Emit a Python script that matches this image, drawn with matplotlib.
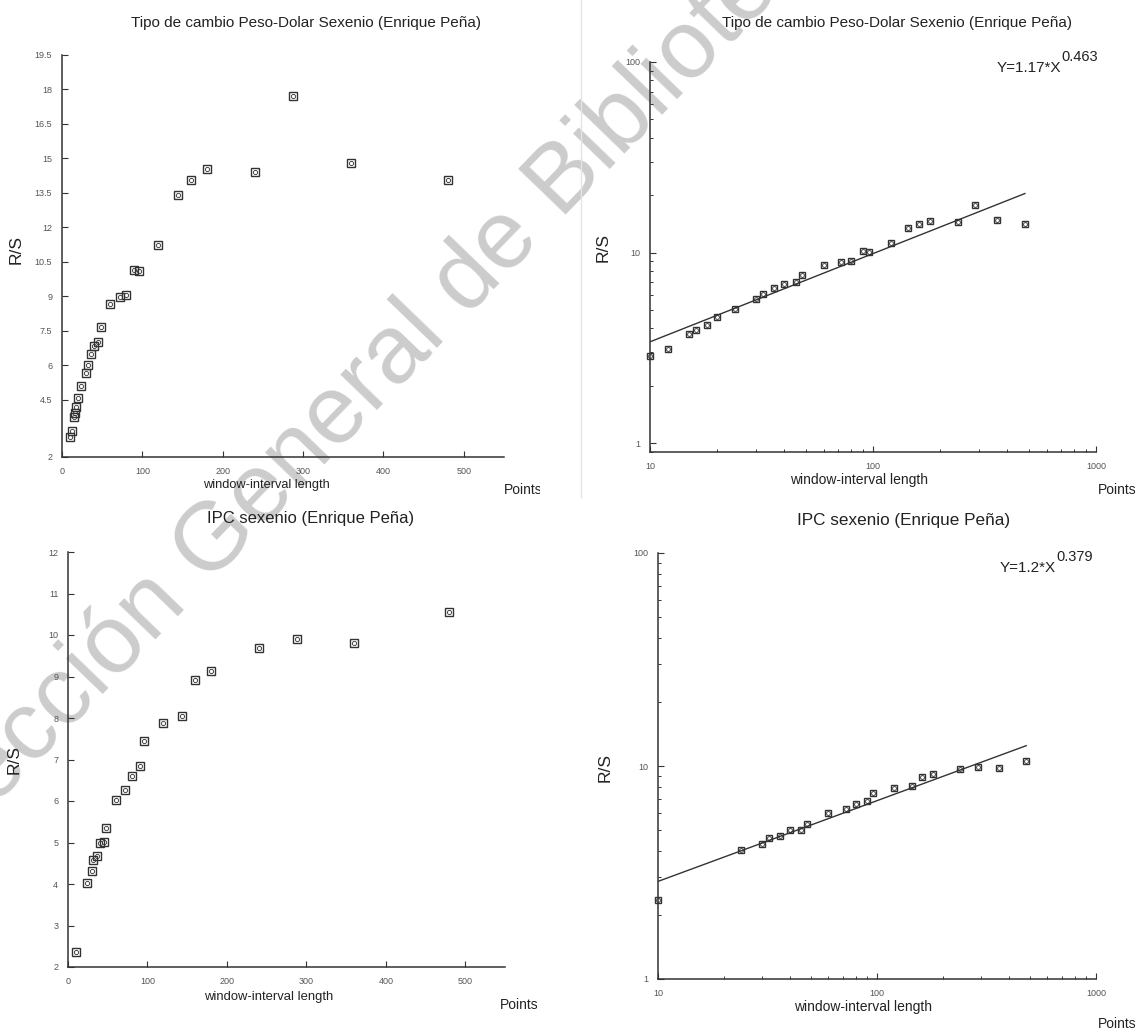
import numpy as np
import matplotlib
matplotlib.use("Agg")
import matplotlib.pyplot as plt
from matplotlib.ticker import LogLocator, FuncFormatter, NullFormatter
from matplotlib.transforms import Bbox, TransformedBbox
from matplotlib.lines import Line2D

plt.rcParams['font.family'] = ['Liberation Sans', 'DejaVu Sans']

# ventanas (longitud del intervalo) y R/S
x_tc = [10, 12, 15, 16, 18, 20, 24, 30, 32, 36, 40, 45, 48, 60, 72, 80, 90, 96,
        120, 144, 160, 180, 240, 288, 360, 480]
rs_tc = [2.85, 3.13, 3.75, 3.9, 4.18, 4.58, 5.07, 5.67, 6.02, 6.48, 6.85, 7.02, 7.66,
         8.65, 8.96, 9.05, 10.15, 10.1, 11.25, 13.4, 14.05, 14.55, 14.4, 17.7, 14.8, 14.05]

x_ipc = [10, 24, 30, 32, 36, 40, 45, 48, 60, 72, 80, 90, 96, 120, 144, 160, 180,
         240, 288, 360, 480]
rs_ipc = [2.35, 4.02, 4.32, 4.57, 4.67, 4.98, 5.02, 5.35, 6.03, 6.27, 6.6, 6.85, 7.45,
          7.88, 8.05, 8.91, 9.13, 9.69, 9.9, 9.8, 10.56]

# ajuste Y = a * X^b
fit_tc = (1.17, 0.463)
fit_ipc = (1.2, 0.379)
fit_range = [10, 480]

titulo_tc = "Tipo de cambio Peso-Dolar Sexenio (Enrique Peña)"
titulo_ipc = "IPC sexenio (Enrique Peña)"
yticks_tc = [2, 4.5, 6, 7.5, 9, 10.5, 12, 13.5, 15, 16.5, 18, 19.5]
yticks_ipc = [2, 3, 4, 5, 6, 7, 8, 9, 10, 11, 12]
xticks_lin = [0, 100, 200, 300, 400, 500]

W, H = 1136, 1029
fig = plt.figure(figsize=(W / 100, H / 100), dpi=100)
fig.patch.set_facecolor('white')

INK = '#333333'
TXT = '#222222'


def ejes(l, r, top, bottom):
    ax = fig.add_axes([l / W, 1 - bottom / H, (r - l) / W, (bottom - top) / H])
    ax.patch.set_alpha(0)
    for s in ['top', 'right']:
        ax.spines[s].set_visible(False)
    for s in ['left', 'bottom']:
        ax.spines[s].set_color(INK)
        ax.spines[s].set_linewidth(1.1)
    ax.tick_params(which='major', direction='in', length=4.5, width=0.8, color=INK,
                   labelsize=6.5, labelcolor='#555555', pad=7)
    ax.tick_params(which='minor', direction='in', length=2.5, width=0.7, color=INK)
    return ax


def puntos(ax, x, y, ms=5):
    ax.plot(x, y, ls='none', marker='s', ms=ms, mfc='none', mec=INK, mew=1.0, clip_on=False)
    ax.plot(x, y, ls='none', marker='o', ms=ms * 0.55, mfc='none', mec=INK, mew=0.6,
            clip_on=False)


def texto(x, y, s, **kw):
    return fig.text(x / W, 1 - y / H, s, **kw)


def log_fmt(ax):
    ax.set_xscale('log')
    ax.set_yscale('log')
    fmt = FuncFormatter(lambda v, p: f'{v:g}')
    for axis in (ax.xaxis, ax.yaxis):
        axis.set_major_locator(LogLocator(base=10))
        axis.set_minor_locator(LogLocator(base=10, subs=np.arange(2, 10)))
        axis.set_major_formatter(fmt)
        axis.set_minor_formatter(NullFormatter())


# marca de agua
texto(-108, 912, "Colección General de Biblioteca", fontsize=70, color='#cccccc',
      rotation=46, rotation_mode='anchor', ha='left', va='baseline', zorder=-5)

# separador entre los paneles superiores
fig.add_artist(Line2D([581 / W, 581 / W], [1, 1 - 497 / H], color='#e4e4e4', lw=1))

# --- arriba izquierda: lineal ---
ax1 = ejes(62, 504, 55, 457)
puntos(ax1, x_tc, rs_tc, ms=5.5)
ax1.set_xlim(0, 550)
ax1.set_ylim(2, 19.5)
ax1.set_xticks(xticks_lin)
ax1.set_yticks(yticks_tc)
ax1.set_yticklabels([f'{v:g}' for v in yticks_tc])

# --- arriba derecha: log-log ---
ax2 = ejes(650, 1096, 62, 452)
log_fmt(ax2)
puntos(ax2, x_tc, rs_tc)
xf = np.array(fit_range, dtype=float)
ax2.plot(xf, fit_tc[0] * xf ** fit_tc[1], color=INK, lw=1)
ax2.set_xlim(10, 1000)
ax2.set_ylim(0.897, 100)

# --- abajo izquierda: lineal ---
ax3 = ejes(68, 505, 552, 967)
puntos(ax3, x_ipc, rs_ipc, ms=5.5)
ax3.set_xlim(0, 550)
ax3.set_ylim(2, 12)
ax3.set_xticks(xticks_lin)
ax3.set_yticks(yticks_ipc)

# --- abajo derecha: log-log ---
ax4 = ejes(658, 1096, 553, 979)
log_fmt(ax4)
puntos(ax4, x_ipc, rs_ipc)
ax4.plot(xf, fit_ipc[0] * xf ** fit_ipc[1], color=INK, lw=1)
ax4.set_xlim(10, 1000)
ax4.set_ylim(1, 100)

# títulos y etiquetas
for cx, cy, s, fs in [(306, 23, titulo_tc, 11), (897, 23, titulo_tc, 11),
                      (311, 518, titulo_ipc, 12), (904, 520, titulo_ipc, 12.3)]:
    texto(cx, cy, s, fontsize=fs, color=TXT, ha='center', va='center')

for cx, cy, fs in [(266, 485, 9.2), (859, 480, 10), (269, 997, 9.4), (863, 1007, 10)]:
    texto(cx, cy, "window-interval length", fontsize=fs, color=TXT,
          ha='center', va='center')

for cx, cy in [(16, 250), (603, 248), (14, 760), (605, 767)]:
    texto(cx, cy, "R/S", fontsize=12.5, color=TXT, rotation=90,
          ha='center', va='center')

# "Points" recortado por el borde de cada panel
for lx, cy, clip_r in [(504, 490, 540), (1098, 490, 1136),
                       (500, 1005, 540), (1098, 1024, 1136)]:
    t = texto(lx, cy, "Points", fontsize=10, color=TXT, ha='left', va='center')
    t.set_clip_box(TransformedBbox(Bbox([[0, 0], [clip_r / W, 1]]), fig.transFigure))
    t.set_clip_on(True)

# ecuaciones del ajuste
for rx, by, a, b in [(1061, 72, fit_tc[0], fit_tc[1]), (1056, 572, fit_ipc[0], fit_ipc[1])]:
    texto(rx, by, f"Y={a:g}*X", fontsize=11, color=TXT, ha='right', va='baseline')
    texto(rx, by - 11, f"{b:g}", fontsize=10.5, color=TXT, ha='left', va='baseline')

fig.savefig('out.png', dpi=100)
